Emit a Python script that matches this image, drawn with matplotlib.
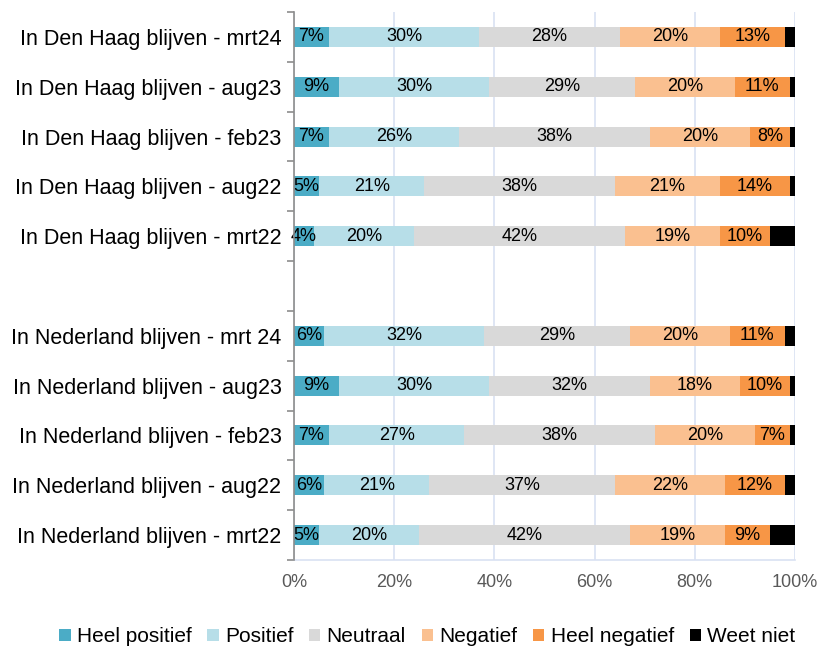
import matplotlib
matplotlib.use("Agg")
import matplotlib.pyplot as plt
import numpy as np

plt.rcParams['font.family'] = ['Liberation Sans', 'DejaVu Sans']

categories = [
    "In Den Haag blijven - mrt24",
    "In Den Haag blijven - aug23",
    "In Den Haag blijven - feb23",
    "In Den Haag blijven - aug22",
    "In Den Haag blijven - mrt22",
    "",
    "In Nederland blijven - mrt 24",
    "In Nederland blijven - aug23",
    "In Nederland blijven - feb23",
    "In Nederland blijven - aug22",
    "In Nederland blijven - mrt22",
]

series_names = ["Heel positief", "Positief", "Neutraal", "Negatief", "Heel negatief", "Weet niet"]
heel_positief = [7, 9, 7, 5, 4, 0, 6, 9, 7, 6, 5]
positief      = [30, 30, 26, 21, 20, 0, 32, 30, 27, 21, 20]
neutraal      = [28, 29, 38, 38, 42, 0, 29, 32, 38, 37, 42]
negatief      = [20, 20, 20, 21, 19, 0, 20, 18, 20, 22, 19]
heel_negatief = [13, 11, 8, 14, 10, 0, 11, 10, 7, 12, 9]
weet_niet     = [2, 1, 1, 1, 5, 0, 2, 1, 1, 2, 5]

colors = ["#4BACC6", "#B7DEE8", "#D9D9D9", "#FAC090", "#F79646", "#000000"]
show_labels = [True, True, True, True, True, False]

data = [heel_positief, positief, neutraal, negatief, heel_negatief, weet_niet]

fig = plt.figure(figsize=(8.2, 6.5), dpi=100)
ax = fig.add_axes([0.3585, 0.1385, 0.611, 0.843])

y = np.arange(len(categories))
left = np.zeros(len(categories))
handles = []
for vals, name, col, lab in zip(data, series_names, colors, show_labels):
    vals = np.array(vals, dtype=float)
    h = ax.barh(y, vals / 100.0, left=left / 100.0, height=0.4, color=col,
                label=name, zorder=3)
    handles.append(h)
    if lab:
        for yi, v, l in zip(y, vals, left):
            if v > 0:
                ax.text((l + v / 2) / 100.0, yi, f"{int(v)}%", ha="center",
                        va="center", fontsize=13, color="black", zorder=4)
    left += vals

ax.set_xlim(0, 1)
ax.set_ylim(len(categories) - 0.5, -0.5)
ax.set_xticks(np.arange(0, 1.01, 0.2))
ax.set_xticklabels([f"{int(t*100)}%" for t in np.arange(0, 1.01, 0.2)],
                   fontsize=13, color="#595959")
ax.tick_params(axis="x", length=0, pad=10)
ax.set_yticks(y)
ax.set_yticklabels(categories, fontsize=15.5, color="black")
ax.tick_params(axis="y", which="major", length=0, pad=9)
ax.set_yticks(np.arange(-0.5, len(categories), 1.0), minor=True)
ax.tick_params(axis="y", which="minor", length=5, width=1.2, color="#8C8C8C")

ax.grid(axis="x", color="#D9E1F2", linewidth=1.2, zorder=0)
for s in ["top", "right"]:
    ax.spines[s].set_visible(False)
ax.spines["bottom"].set_color("#D9E1F2")
ax.spines["bottom"].set_linewidth(1.2)
ax.spines["left"].set_color("#8C8C8C")
ax.spines["left"].set_linewidth(1.2)
ax.spines["left"].set_zorder(5)

leg = fig.legend(handles=handles, labels=series_names, loc="center",
                 bbox_to_anchor=(0.521, 0.02), ncol=6, frameon=False,
                 fontsize=15, handlelength=0.55, handleheight=0.55,
                 handletextpad=0.3, columnspacing=0.75)

fig.savefig("out.png", dpi=100)
